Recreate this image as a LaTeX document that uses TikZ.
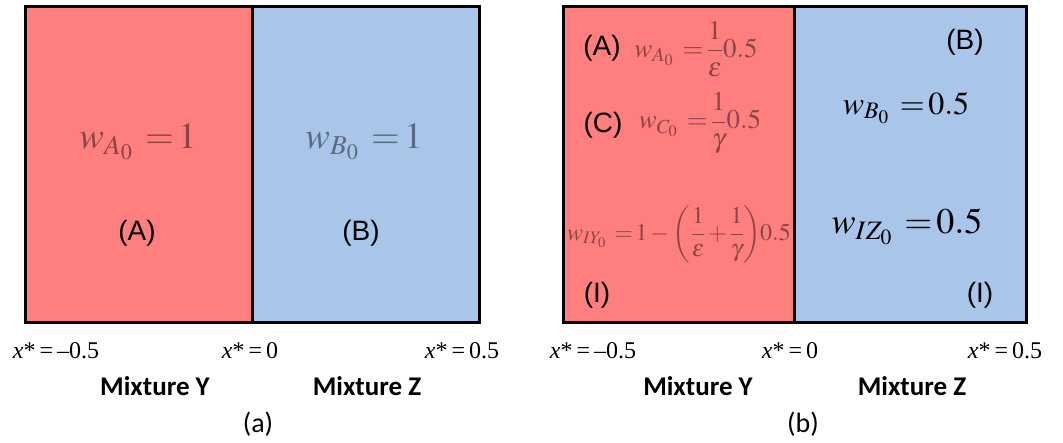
\documentclass[tikz,border=0pt]{standalone}
\usepackage{mathptmx}
\usepackage{fontspec}
\setmainfont{Liberation Serif}
\newfontfamily\arialf{Liberation Sans}
\newfontfamily\calf{Carlito}
\definecolor{redfill}{HTML}{FF7F7F}
\definecolor{bluefill}{HTML}{A9C5EA}
\newcommand{\teq}{\mkern6mu{=}\mkern2mu}
\tikzset{
  lbl/.style={inner sep=0pt, font=\arialf\fontsize{28}{30}\selectfont},
  mix/.style={inner sep=0pt, anchor=base, font=\calf\bfseries\fontsize{27}{30}\selectfont},
  captxt/.style={inner sep=0pt, font=\calf\fontsize{28}{30}\selectfont},
  xl/.style={inner sep=0pt, anchor=base, font=\fontsize{24}{28}\selectfont},
  muted/.style={inner sep=0pt, text=black, text opacity=0.45},
  border/.style={line width=3pt, line join=miter}
}
\begin{document}
\begin{tikzpicture}[x=1pt,y=-1pt]
\useasboundingbox (0,0) rectangle (1063,442);
% panel (a)
\fill[redfill] (25,6) rectangle (252,322);
\fill[bluefill] (252,6) rectangle (479,322);
\draw[border] (25,6) rectangle (479,322);
\draw[border] (252,6) -- (252,322);
% panel (b)
\fill[redfill] (563,6) rectangle (794,322);
\fill[bluefill] (794,6) rectangle (1026,322);
\draw[border] (563,6) rectangle (1026,322);
\draw[border] (794,6) -- (794,322);

% (a) texts
\node[muted, font=\fontsize{37}{42}\selectfont] (wa) at (138,142) {$w_{A_0}\teq 1$};
\node[muted, font=\fontsize{37}{42}\selectfont] (wb) at (364,142) {$w_{B_0}\teq 1$};
\node[lbl] (la) at (137,233) {(A)};
\node[lbl] (lb) at (361,233) {(B)};

% (b) texts
\node[lbl] (lba) at (602,48) {(A)};
\node[muted, font=\fontsize{27}{30}\selectfont] (wba) at (696,49) {$w_{A_0}\teq\displaystyle\frac{1}{\varepsilon}0.5$};
\node[lbl] (lbc) at (603,125) {(C)};
\node[muted, font=\fontsize{27}{30}\selectfont] (wbc) at (700,123) {$w_{C_0}\teq\displaystyle\frac{1}{\gamma}0.5$};
\node[muted, font=\fontsize{24}{28}\selectfont] (wbi) at (679,234) {$w_{IY_0}\teq 1\mkern2mu{-}\mkern1mu\displaystyle\left(\frac{1}{\varepsilon}\mkern2mu{+}\mkern2mu\frac{1}{\gamma}\right)\mkern-3mu 0.5$};
\node[lbl] (lbi) at (597,295) {(I)};
\node[lbl] (lbb) at (965,42) {(B)};
\node[inner sep=0pt, font=\fontsize{32}{36}\selectfont] (wbb) at (906,108) {$w_{B_0}\teq 0.5$};
\node[inner sep=0pt, font=\fontsize{36}{40}\selectfont] (wbz) at (907,227) {$w_{IZ_0}\teq 0.5$};
\node[lbl] (lbi2) at (980,295) {(I)};

% axis labels
\node[xl] (xa1) at (56,358) {\textit{x}*\,=\,–0.5};
\node[xl] (xa2) at (250,358) {\textit{x}*\,=\,0};
\node[xl] (xa3) at (462,358) {\textit{x}*\,=\,0.5};
\node[xl] (xb1) at (593,358) {\textit{x}*\,=\,–0.5};
\node[xl] (xb2) at (790,358) {\textit{x}*\,=\,0};
\node[xl] (xb3) at (1005,358) {\textit{x}*\,=\,0.5};

\node[mix] (my1) at (155,395) {Mixture Y};
\node[mix] (mz1) at (367,395) {Mixture Z};
\node[mix] (my2) at (698,395) {Mixture Y};
\node[mix] (mz2) at (912,395) {Mixture Z};

\node[captxt] (ca) at (258,424) {(a)};
\node[captxt] (cb) at (803,424) {(b)};
\end{tikzpicture}
\end{document}
